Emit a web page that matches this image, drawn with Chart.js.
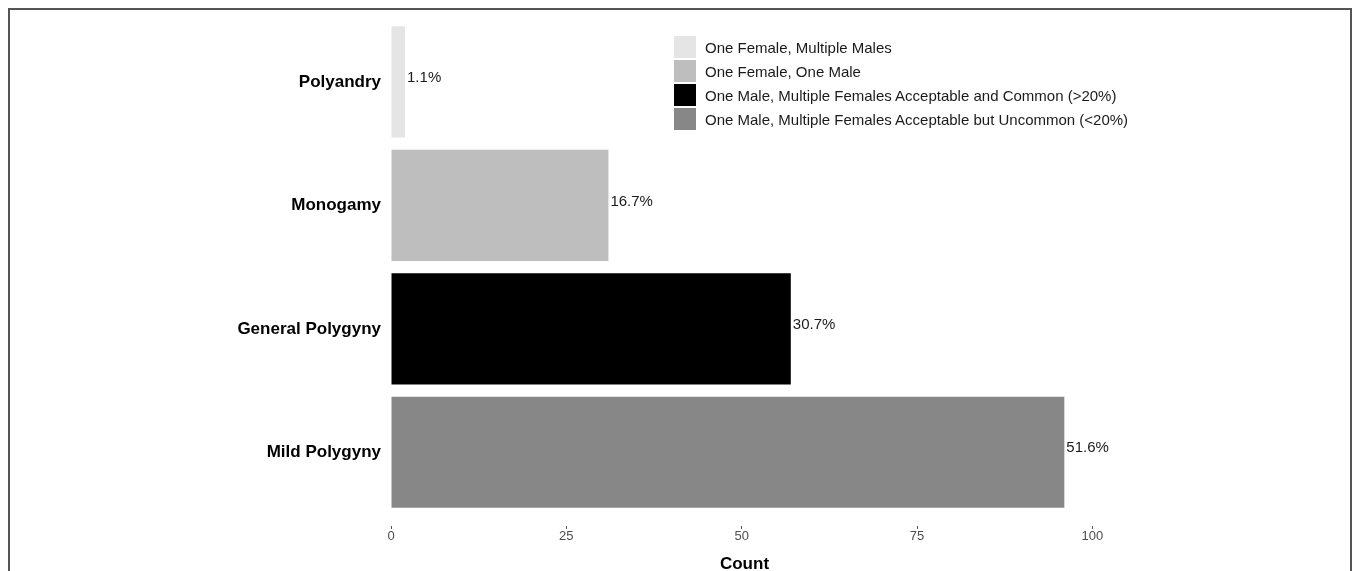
<!DOCTYPE html>
<html>
<head>
<meta charset="utf-8">
<script src="https://cdn.jsdelivr.net/npm/chart.js@4"></script>
<style>
    body { margin: 0; background: #fff; font-family: "Liberation Sans", Arial, sans-serif; }
    #wrap { position: relative; width: 1357px; height: 571px; overflow: hidden; }
    #chart { position: absolute; left: 0; top: 0; }
    #frame { position: absolute; left: 8px; top: 8px; width: 1340px; height: 600px;
             border: 2px solid #555; border-bottom: none; pointer-events: none; }
    #legend { position: absolute; left: 674px; top: 35px; }
    .row { display: flex; align-items: center; height: 24px; }
    .sw { width: 22px; height: 22px; margin-right: 9px; }
    .lbl { font-size: 15px; color: #1a1a1a; white-space: nowrap; }
</style>
</head>
<body>
<div id="wrap">
    <canvas id="chart" width="1357" height="571"></canvas>
    <div id="frame"></div>
    <div id="legend"></div>
</div>
<script>
// --- Data ---
const categories = ['Polyandry', 'Monogamy', 'General Polygyny', 'Mild Polygyny'];
const counts = [2, 31, 57, 96];
const pctLabels = ['1.1%', '16.7%', '30.7%', '51.6%'];
const legendLabels = [
    'One Female, Multiple Males',
    'One Female, One Male',
    'One Male, Multiple Females Acceptable and Common (>20%)',
    'One Male, Multiple Females Acceptable but Uncommon (<20%)'
];
const barColors = ['#e5e5e5', '#bebebe', '#000000', '#878787'];
const xTicks = [0, 25, 50, 75, 100];

// percent labels just right of each bar
const barLabels = {
    id: 'barLabels',
    afterDatasetsDraw(chart) {
        const ctx = chart.ctx;
        const meta = chart.getDatasetMeta(0);
        ctx.save();
        ctx.font = '15px "Liberation Sans", Arial, sans-serif';
        ctx.fillStyle = '#1a1a1a';
        ctx.textAlign = 'left';
        ctx.textBaseline = 'middle';
        meta.data.forEach((bar, i) => {
            ctx.fillText(pctLabels[i], bar.x + 2, bar.y - 4);
        });
        ctx.restore();
    }
};

new Chart(document.getElementById('chart'), {
    type: 'bar',
    data: {
        labels: categories,
        datasets: [{
            data: counts,
            backgroundColor: barColors,
            barPercentage: 0.9,
            categoryPercentage: 1.0
        }]
    },
    options: {
        indexAxis: 'y',
        responsive: false,
        animation: false,
        layout: { padding: { top: 20, right: 259, left: 0, bottom: 0 } },
        plugins: { legend: { display: false }, tooltip: { enabled: false } },
        scales: {
            x: {
                min: 0,
                max: 100.8,
                afterFit: (scale) => { scale.height = 57; },
                afterBuildTicks: (scale) => { scale.ticks = xTicks.map(v => ({ value: v })); },
                border: { display: false },
                grid: {
                    drawOnChartArea: false,
                    drawTicks: true,
                    tickLength: 15,
                    tickColor: '#555',
                    tickWidth: 1,
                    tickBorderDash: [0, 12, 3, 100]
                },
                ticks: {
                    padding: 0,
                    color: '#4d4d4d',
                    font: { family: '"Liberation Sans Narrow", "Arial Narrow", "Liberation Sans", Arial', size: 13 }
                },
                title: {
                    display: true,
                    text: 'Count',
                    color: '#000',
                    padding: { top: 0, bottom: -2 },
                    font: { family: '"Liberation Sans", Arial', size: 17, weight: 'bold', lineHeight: 1 }
                }
            },
            y: {
                afterFit: (scale) => { scale.width = 391; },
                border: { display: false },
                grid: { display: false, drawTicks: false },
                ticks: {
                    padding: 10,
                    color: '#000',
                    font: { family: '"Liberation Sans", Arial', size: 17, weight: 'bold' }
                }
            }
        }
    },
    plugins: [barLabels]
});

// legend
const legend = document.getElementById('legend');
legendLabels.forEach((txt, i) => {
    const row = document.createElement('div');
    row.className = 'row';
    row.innerHTML = `<div class="sw" style="background:${barColors[i]}"></div><span class="lbl">${txt.replace('<', '&lt;').replace('>', '&gt;')}</span>`;
    legend.appendChild(row);
});
</script>
</body>
</html>
